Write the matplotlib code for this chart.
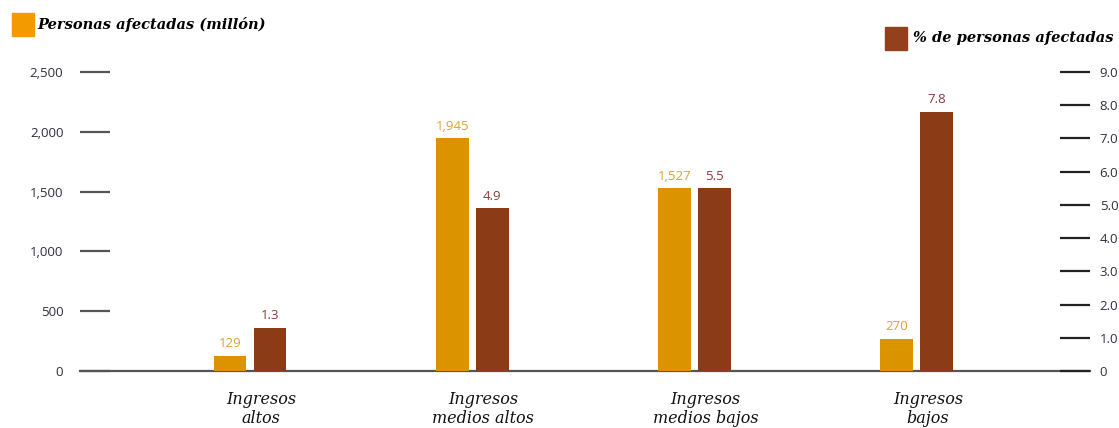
import matplotlib.pyplot as plt
from matplotlib.patches import Rectangle

# datos del gráfico
categorias = ['Ingresos\naltos', 'Ingresos\nmedios altos', 'Ingresos\nmedios bajos', 'Ingresos\nbajos']
personas = [129, 1945, 1527, 270]          # millón
porcentaje = [1.3, 4.9, 5.5, 7.8]          # %
ticks_izq = [0, 500, 1000, 1500, 2000, 2500]
ticks_der = [0, 1, 2, 3, 4, 5, 6, 7, 8, 9]

naranja = '#DB9400'
marron = '#8C3B17'
texto_eje = '#2F2F3F'

W, H = 1119, 428
fig = plt.figure(figsize=(W / 100, H / 100), dpi=100)
ax = fig.add_axes([80 / W, (H - 371) / H, (1090 - 80) / W, (371 - 72) / H])
ax2 = ax.twinx()

x = list(range(len(categorias)))
ancho = 0.148
ax.bar([i - 0.09 for i in x], personas, width=ancho, color=naranja, zorder=3)
ax2.bar([i + 0.09 for i in x], porcentaje, width=ancho, color=marron, zorder=3)

for i, v in enumerate(personas):
    ax.annotate(f'{v:,}', (i - 0.09, v), xytext=(0, 4), textcoords='offset points',
                ha='center', va='bottom', fontsize=9.5, color='#E0A030', family='Open Sans')
for i, v in enumerate(porcentaje):
    ax2.annotate(f'{v}', (i + 0.09, v), xytext=(0, 4), textcoords='offset points',
                 ha='center', va='bottom', fontsize=9.5, color='#8B3A3A', family='Open Sans')

ax.set_xlim(-0.765, 3.779)
ax.set_ylim(0, 2500)
ax2.set_ylim(0, 9)

ax.set_yticks(ticks_izq)
ax.set_yticklabels([f'{t:,}' for t in ticks_izq])
ax2.set_yticks(ticks_der)
ax2.set_yticklabels(['0'] + [f'{t:.1f}' for t in ticks_der[1:]])

ax.tick_params(axis='y', direction='in', length=21.6, width=1.6, color='#555555',
               pad=12, labelsize=9.5, labelcolor=texto_eje)
ax2.tick_params(axis='y', direction='in', length=21.6, width=1.6, color='#222222',
                pad=7, labelsize=9.5, labelcolor=texto_eje)
for a in (ax, ax2):
    for lbl in a.get_yticklabels():
        lbl.set_family('Open Sans')
    for s in ['top', 'left', 'right']:
        a.spines[s].set_visible(False)
ax2.spines['bottom'].set_visible(False)
ax.spines['bottom'].set_color('#555555')
ax.spines['bottom'].set_linewidth(1.6)
ax.set_xticks([])

for i, c in enumerate(categorias):
    ax.text(i + 0.05, -165, c, ha='center', va='top', fontsize=11.5,
            style='italic', family='DejaVu Serif', color='#111111',
            linespacing=1.15)

# leyenda
fig.patches.append(Rectangle((12 / W, 1 - 36 / H), 22 / W, 23 / H,
                             transform=fig.transFigure, color='#F39A00'))
fig.text(37 / W, 1 - 25 / H, 'Personas afectadas (millón)', ha='left', va='center',
         fontsize=10.5, weight='bold', style='italic', family='DejaVu Serif')
fig.patches.append(Rectangle((885 / W, 1 - 50 / H), 22 / W, 23 / H,
                             transform=fig.transFigure, color='#93401C'))
fig.text(913 / W, 1 - 38 / H, '% de personas afectadas', ha='left', va='center',
         fontsize=10.5, weight='bold', style='italic', family='DejaVu Serif')

fig.savefig('out.png', dpi=100)
